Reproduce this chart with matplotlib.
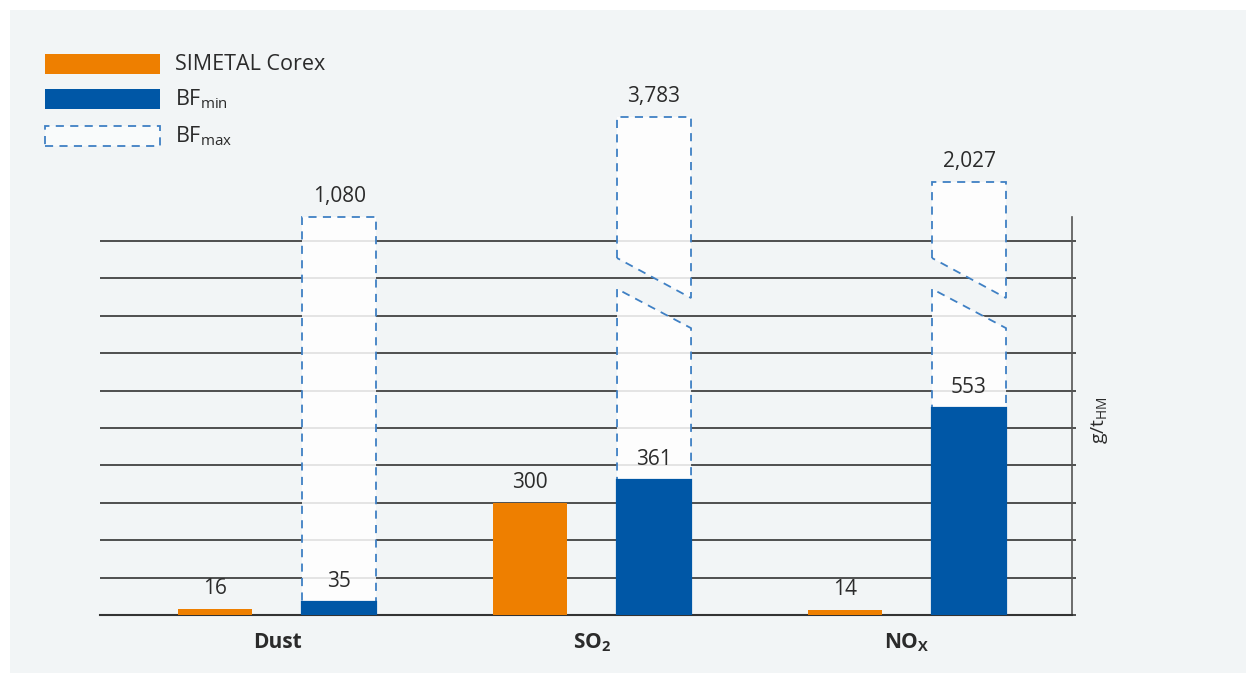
import numpy as np
import matplotlib.pyplot as plt
from matplotlib.patches import Rectangle, Polygon

# Daten
categories = ["Dust", "SO$_2$", "NO$_X$"]
corex = [16, 300, 14]
bf_min = [35, 361, 553]
bf_max = [1080, 3783, 2027]
series_labels = ["SIMETAL Corex", "BF$_{min}$", "BF$_{max}$"]
unit_label = "g/t$_{HM}$"

ORANGE = "#ee7f00"
BLUE = "#0057a6"
DASH = "#3f80c4"
BG = "#f2f5f6"
TXT = "#2b2b2b"

plt.rcParams['font.family'] = ['Open Sans', 'DejaVu Sans']
plt.rcParams['mathtext.default'] = 'regular'

W, H = 1246, 673
fig = plt.figure(figsize=(W / 100, H / 100), dpi=100)
fig.patch.set_facecolor("white")
fig.add_artist(Rectangle((10 / W, 0), (W - 10) / W, (H - 10) / H,
                         transform=fig.transFigure, facecolor=BG, edgecolor="none", zorder=-10))

# Skala: linear bis T, darueber gestaucht (gebrochene Balken)
T, K = 1062.0, 0.099
BREAK_FROM = 1500


def fwd(v):
    v = np.asarray(v, dtype=float)
    return np.where(v <= T, v, T + (v - T) * K)


def inv(v):
    v = np.asarray(v, dtype=float)
    return np.where(v <= T, v, T + (v - T) / K)


px_per_unit = 0.374
ax_left, ax_right, ax_bottom, ax_top = 100, 1072, 615, 40
ax = fig.add_axes([ax_left / W, (H - ax_bottom) / H,
                   (ax_right - ax_left) / W, (ax_bottom - ax_top) / H])
ax.set_facecolor("none")
ax.set_yscale("function", functions=(fwd, inv))
ytop = float(inv((ax_bottom - ax_top) / px_per_unit))
ax.set_ylim(0, ytop)
ax.set_xlim(-0.562, 2.524)

x = np.arange(len(categories))
off, bw = 0.197, 0.235

# Gitterlinien
ax.set_yticks(np.arange(0, 1001, 100))
ax.yaxis.tick_right()
ax.tick_params(axis="y", length=3, width=1.2, color="#333333", labelright=False, direction="out")
ax.yaxis.grid(True, color="#333333", linewidth=1.2, zorder=0)
ax.set_axisbelow(True)
for s in ["top", "left"]:
    ax.spines[s].set_visible(False)
ax.spines["right"].set_bounds(0, 1080)
ax.spines["right"].set_color("#555555")
ax.spines["right"].set_linewidth(1.2)
ax.spines["bottom"].set_color("#333333")
ax.spines["bottom"].set_linewidth(1.5)

# BFmax Balken (gestrichelt)
brk_lo = (872, 767)
brk_hi = (955, 848)
ls = (0, (4.5, 3.5))
for xi, v in zip(x, bf_max):
    x0, x1 = xi + off - bw / 2, xi + off + bw / 2
    if v < BREAK_FROM:
        polys = [([(x0, 0), (x0, v), (x1, v), (x1, 0)], False)]
    else:
        polys = [([(x0, 0), (x0, brk_lo[0]), (x1, brk_lo[1]), (x1, 0)], False),
                 ([(x0, brk_hi[0]), (x0, v), (x1, v), (x1, brk_hi[1])], True)]
    for p, closed in polys:
        ax.add_patch(Polygon(p, closed=closed, facecolor=(1, 1, 1, 0.85), edgecolor=DASH,
                             linestyle=ls, linewidth=1.3, zorder=2))
    ax.annotate(f"{v:,}", (xi + off, v), xytext=(0, 7), textcoords="offset points",
                ha="center", va="bottom", fontsize=15, color=TXT)

ax.bar(x - off, corex, bw, color=ORANGE, zorder=3)
ax.bar(x + off, bf_min, bw, color=BLUE, edgecolor=BLUE, linewidth=1.6, zorder=3)
for xi, v in zip(x, corex):
    ax.annotate(f"{v:,}", (xi - off, v), xytext=(0, 7), textcoords="offset points",
                ha="center", va="bottom", fontsize=15, color=TXT)
for xi, v in zip(x, bf_min):
    ax.annotate(f"{v:,}", (xi + off, v), xytext=(0, 7), textcoords="offset points",
                ha="center", va="bottom", fontsize=15, color=TXT)

ax.set_xticks(x)
ax.set_xticklabels(categories, fontsize=15, fontweight="bold", color=TXT)
ax.tick_params(axis="x", length=0, pad=12)

fig.text(1100 / W, 1 - 420 / H, unit_label, rotation=90, ha="center", va="center",
         fontsize=14, color=TXT)

# Legende
def fx(px):
    return px / W


def fy(py):
    return 1 - py / H


handles = [dict(fc=ORANGE, ec="none", ls="solid"),
           dict(fc=BLUE, ec="none", ls="solid"),
           dict(fc="#f9fbfb", ec=DASH, ls=ls)]
tops = [54, 89, 126]
for (h, t, lab) in zip(handles, tops, series_labels):
    fig.add_artist(Rectangle((fx(45), fy(t + 20)), 115 / W, 20 / H, transform=fig.transFigure,
                             facecolor=h["fc"], edgecolor=h["ec"], linestyle=h["ls"], linewidth=1.3))
    fig.text(fx(175), fy(t + 10), lab, ha="left", va="center", fontsize=15.5, color=TXT)

fig.savefig("out.png", dpi=100, facecolor=fig.get_facecolor())
